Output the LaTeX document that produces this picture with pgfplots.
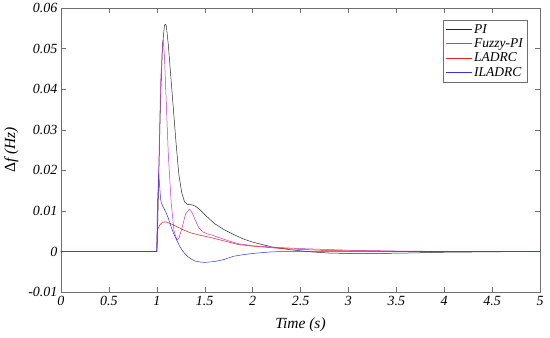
\documentclass[border=0pt]{standalone}
\usepackage{pgfplots}
\pgfplotsset{compat=1.18}
\usepackage{fontspec}
\setmainfont{Liberation Serif}
\definecolor{axgray}{RGB}{110,110,110}
\definecolor{cpi}{RGB}{40,40,40}
\definecolor{cfz}{RGB}{200,50,200}
\definecolor{cla}{RGB}{235,30,30}
\definecolor{cil}{RGB}{50,50,235}
\begin{document}
\begin{tikzpicture}
\begin{axis}[
  scale only axis,
  width=479pt, height=284pt,
  xmin=0, xmax=5, ymin=-0.01, ymax=0.06,
  xtick={0,0.5,...,5}, ytick={-0.01,0,0.01,0.02,0.03,0.04,0.05,0.06},
  xticklabels={0,0.5,1,1.5,2,2.5,3,3.5,4,4.5,5},
  yticklabels={-0.01,0,0.01,0.02,0.03,0.04,0.05,0.06},
  tick align=inside, tick pos=both,
  major tick length=5pt,
  axis line style={axgray},
  every tick/.style={axgray},
  ticklabel style={font=\itshape\fontsize{14}{15}\selectfont},
  xticklabel style={yshift=-1pt},
  /pgf/number format/assume math mode=true,
  xlabel={\textit{Time (s)}},
  ylabel={Δ\textit{f (Hz)}},
  label style={font=\fontsize{15.5}{17}\selectfont},
  xlabel style={yshift=-5pt},
  ylabel style={yshift=3pt},
  legend style={at={(1,1)}, anchor=north east, xshift=-13pt, yshift=-12pt,
    font=\itshape\fontsize{13.5}{15}\selectfont, draw=axgray, row sep=0pt,
    inner sep=2pt, cells={anchor=west}},
  legend image code/.code={\draw[#1] (0pt,0pt) -- (26pt,0pt);},
  every axis plot/.append style={line width=0.5pt},
]
\coordinate (sw) at (rel axis cs:0,0);
\coordinate (ne) at (rel axis cs:1,1);
\addplot[cpi] coordinates {
(0,0) (1.0,0) (1.005,0.002) (1.02,0.018) (1.04,0.038) (1.06,0.051) (1.08,0.0557)
(1.09,0.056) (1.10,0.0555) (1.12,0.051) (1.14,0.045) (1.17,0.036) (1.20,0.027)
(1.23,0.019) (1.26,0.0145) (1.29,0.0122) (1.32,0.0116) (1.36,0.0115) (1.40,0.0112)
(1.45,0.0103) (1.50,0.0091) (1.55,0.008) (1.6,0.0069) (1.7,0.0054) (1.8,0.0042)
(1.9,0.0031) (2.0,0.0023) (2.2,0.0011) (2.4,0.0004) (2.6,-0.0001) (2.8,-0.0004)
(3.0,-0.0005) (3.3,-0.0005) (3.6,-0.0004) (4.0,-0.0002) (4.5,-0.0001) (5,0)
};
\addlegendentry{PI}
\addplot[cfz] coordinates {
(0,0) (1.0,0) (1.005,0.005) (1.02,0.02) (1.04,0.042) (1.06,0.051) (1.068,0.052)
(1.08,0.048) (1.10,0.036) (1.12,0.024) (1.15,0.012) (1.18,0.005) (1.21,0.0028)
(1.23,0.0032) (1.26,0.0055) (1.30,0.0092) (1.34,0.0104) (1.37,0.0095) (1.40,0.0078)
(1.44,0.0058) (1.48,0.0048) (1.53,0.0043) (1.58,0.004) (1.65,0.0034) (1.75,0.0026)
(1.85,0.0019) (2.0,0.0014) (2.25,0.001) (2.5,0.0007) (3.0,0.0003) (3.5,0.0001)
(4,0) (5,0)
};
\addlegendentry{Fuzzy-PI}
\addplot[cla] coordinates {
(0,0) (1.0,0) (1.005,0.0052) (1.03,0.0065) (1.06,0.0072) (1.09,0.0073) (1.15,0.0068)
(1.2,0.0062) (1.28,0.0053) (1.35,0.0046) (1.45,0.004) (1.55,0.0035) (1.7,0.0026)
(1.85,0.0017) (2.0,0.0013) (2.25,0.0008) (2.5,0.0005) (2.8,0.0002) (3.2,0.0001)
(3.6,0) (5,0)
};
\addlegendentry{LADRC}
\addplot[cil] coordinates {
(0,0) (1.0,0) (1.005,0.01) (1.02,0.0192) (1.03,0.016) (1.04,0.0128) (1.05,0.0118)
(1.07,0.0108) (1.09,0.0099) (1.12,0.0082) (1.15,0.006) (1.18,0.0042) (1.21,0.0027)
(1.24,0.0012) (1.28,-0.0002) (1.32,-0.0012) (1.36,-0.0019) (1.40,-0.0024)
(1.45,-0.0026) (1.5,-0.0027) (1.55,-0.0026) (1.6,-0.0025) (1.7,-0.002) (1.8,-0.0012)
(1.9,-0.0008) (2.0,-0.0005) (2.2,-0.0001) (2.4,0) (5,0)
};
\addlegendentry{ILADRC}
\end{axis}
\pgfresetboundingbox
\path ([shift={(-61pt,-46pt)}]sw) rectangle ([shift={(10pt,8pt)}]ne);
\end{tikzpicture}
\end{document}
